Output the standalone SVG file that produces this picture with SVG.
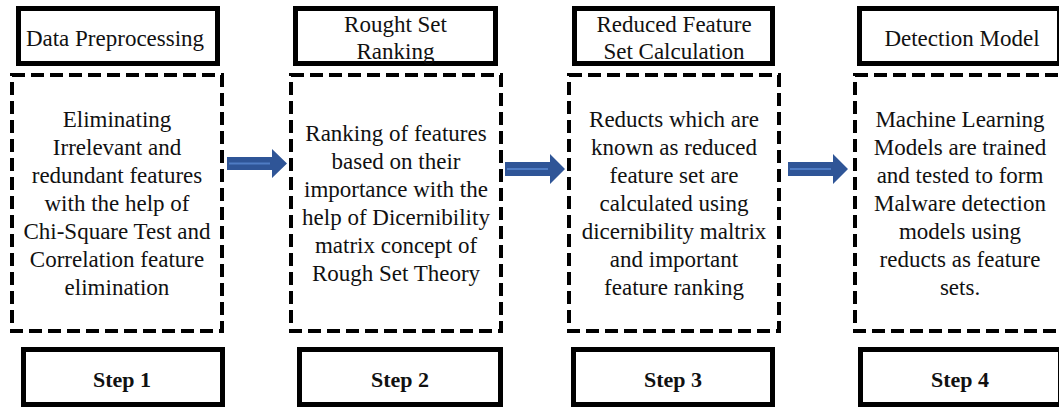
<svg xmlns="http://www.w3.org/2000/svg" width="1059" height="408" viewBox="0 0 1059 408">
<style>
.hdr{fill:#fff;stroke:#000;stroke-width:5}
.dash{fill:#fff;stroke:#000;stroke-width:4;stroke-dasharray:13 6;stroke-linejoin:miter}
.step{fill:#fff;stroke:#000;stroke-width:5}
.t{font-family:"Liberation Serif","Times New Roman",serif;font-size:23px;fill:#111;text-anchor:middle}
.s{font-family:"Liberation Serif","Times New Roman",serif;font-size:22px;font-weight:bold;fill:#111;text-anchor:middle}
.arr{fill:#2F5597}
.arrl{stroke:#4F7CC4;stroke-width:2;fill:none}
</style>
<rect width="1059" height="408" fill="#fff"/>
<g id="col1">
<rect class="hdr" x="18.5" y="8.5" width="199" height="55"/>
<text class="t" x="115" y="46">Data Preprocessing</text>
<rect class="dash" x="12" y="75" width="210" height="256"/>
<text class="t"><tspan x="117" y="127">Eliminating</tspan><tspan x="117" y="155">Irrelevant and</tspan><tspan x="117" y="183">redundant features</tspan><tspan x="117" y="211">with the help of</tspan><tspan x="117" y="239">Chi-Square Test and</tspan><tspan x="117" y="267">Correlation feature</tspan><tspan x="117" y="295">elimination</tspan></text>
</g>
<g id="col2">
<rect class="hdr" x="295.5" y="8.5" width="200" height="55"/>
<text class="t"><tspan x="395.5" y="32">Rought Set</tspan><tspan x="395.5" y="59">Ranking</tspan></text>
<rect class="dash" x="291" y="75" width="210" height="256"/>
<text class="t"><tspan x="396" y="141">Ranking of features</tspan><tspan x="396" y="169">based on their</tspan><tspan x="396" y="197">importance with the</tspan><tspan x="396" y="225">help of Dicernibility</tspan><tspan x="396" y="253">matrix concept of</tspan><tspan x="396" y="281">Rough Set Theory</tspan></text>
</g>
<g id="col3">
<rect class="hdr" x="574.5" y="8.5" width="198" height="55"/>
<text class="t"><tspan x="674" y="32">Reduced Feature</tspan><tspan x="674" y="59">Set Calculation</tspan></text>
<rect class="dash" x="569" y="75" width="210" height="256"/>
<text class="t"><tspan x="674" y="127">Reducts which are</tspan><tspan x="674" y="155">known as reduced</tspan><tspan x="674" y="183">feature set are</tspan><tspan x="674" y="211">calculated using</tspan><tspan x="674" y="239">dicernibility maltrix</tspan><tspan x="674" y="267">and important</tspan><tspan x="674" y="295">feature ranking</tspan></text>
</g>
<g id="col4">
<rect class="hdr" x="859.5" y="8.5" width="200" height="55"/>
<text class="t" x="962" y="46">Detection Model</text>
<rect class="dash" x="855" y="75" width="210" height="256"/>
<text class="t"><tspan x="960" y="127">Machine Learning</tspan><tspan x="960" y="155">Models are trained</tspan><tspan x="960" y="183">and tested to form</tspan><tspan x="960" y="211">Malware detection</tspan><tspan x="960" y="239">models using</tspan><tspan x="960" y="267">reducts as feature</tspan><tspan x="960" y="295">sets.</tspan></text>
</g>
<g id="step1"><rect class="step" x="23.5" y="349.5" width="199" height="55"/><text class="s" x="122" y="387">Step 1</text></g>
<g id="step2"><rect class="step" x="299.5" y="349.5" width="201" height="55"/><text class="s" x="400" y="387">Step 2</text></g>
<g id="step3"><rect class="step" x="573.5" y="349.5" width="199" height="55"/><text class="s" x="673" y="387">Step 3</text></g>
<g id="step4"><rect class="step" x="860.5" y="349.5" width="200" height="55"/><text class="s" x="960" y="387">Step 4</text></g>
<g id="connectors">
<path class="arr" d="M227 157 H272 V149 L287 163.5 L272 178 V170 H227 Z"/>
<line class="arrl" x1="229" y1="163.5" x2="270" y2="163.5"/>
<path class="arr" d="M505 162 H550 V154 L565 169 L550 184 V176 H505 Z"/>
<line class="arrl" x1="507" y1="169" x2="548" y2="169"/>
<path class="arr" d="M788 162 H833 V154 L848 169 L833 184 V176 H788 Z"/>
<line class="arrl" x1="790" y1="169" x2="831" y2="169"/>
</g>
</svg>
